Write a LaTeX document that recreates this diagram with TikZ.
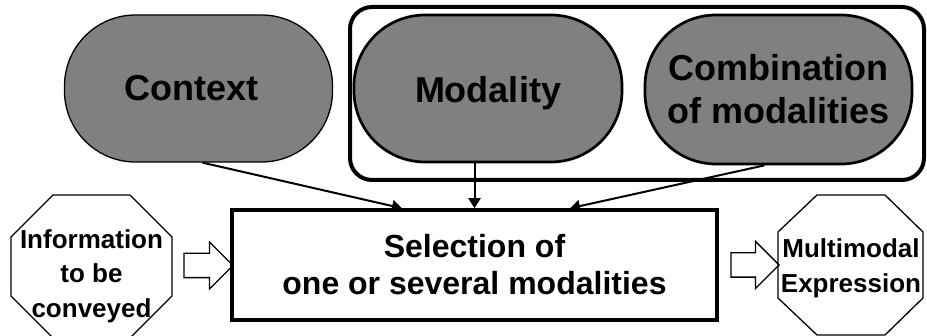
\documentclass[tikz,border=0pt]{standalone}
\usepackage{fontspec}
\setmainfont{Liberation Sans}
\usetikzlibrary{arrows.meta,shapes.arrows,calc}
\begin{document}
\begin{tikzpicture}[x=1pt,y=-1pt,
  bubble/.style={draw, fill=gray, rounded corners=71pt, minimum width=268pt,
    minimum height=147pt, inner sep=0pt, align=center,
    font=\bfseries\fontsize{36}{43}\selectfont},
  selbox/.style={draw, line width=3.5pt, minimum width=485pt, minimum height=110pt,
    inner sep=0pt, align=center, font=\bfseries\fontsize{32}{37}\selectfont},
  groupbox/.style={draw, line width=4pt, rounded corners=22pt, minimum width=574pt,
    minimum height=173pt, inner sep=0pt},
  conn/.style={line width=2pt, -{Triangle[length=10pt,width=12pt]}},
  octline/.style={draw, line width=1.3pt, line join=miter},
  octtext/.style={align=center, inner sep=0pt, font=\bfseries\fontsize{26}{34.5}\selectfont},
  hollow/.style={single arrow, draw, line width=1.3pt, minimum height=49pt,
    minimum width=46pt, single arrow head extend=11.5pt, inner xsep=0pt, inner ysep=11.5pt}
]
\useasboundingbox (0,0) rectangle (927,336);

% group frame
\node[groupbox] (group) at (637,93.5) {};

% top bubbles
\node[bubble, line width=1.3pt] (context) at (198.5,88.5) {\hspace*{-14pt}Context};
\node[bubble, line width=2.7pt, text height=29pt, text depth=0pt] (modality) at (488,88.5) {Modality};
\node[bubble, line width=2.7pt, minimum width=267pt, minimum height=149pt] (combo) at (778.5,89.5) {Combination\\of modalities};

% central box
\node[selbox] (sel) at (474.5,265) {Selection of\\one or several modalities};

% connectors
\draw[conn] ($(context.south)+(4,0)$) -- ($(sel.north)+(-72.5,0)$);
\draw[conn] (modality.south -| sel.north) -- (sel.north);
\draw[conn] ($(combo.south)+(-14,0)$) -- ($(sel.north)+(95.5,0)$);

% left octagon
\path[octline] (53,195) -- (130,195) -- (172,237) -- (172,296) -- (130,338)
  -- (53,338) -- (11,296) -- (11,237) -- cycle;
\node[octtext] (info) at (91.5,276) {Information\\to be\\conveyed};

% right octagon
\path[octline] (817,195) -- (885,195) -- (923,232) -- (923,298) -- (885,335)
  -- (817,335) -- (778,298) -- (778,232) -- cycle;
\node[octtext, font=\bfseries\fontsize{26}{35}\selectfont] (expr) at (851,268) {Multimodal\\Expression};

% hollow block arrows
\node[hollow] (arrin) at (202.5,265.5) {};
\node[hollow, minimum height=48pt] (arrout) at (749,265) {};
\end{tikzpicture}
\end{document}
